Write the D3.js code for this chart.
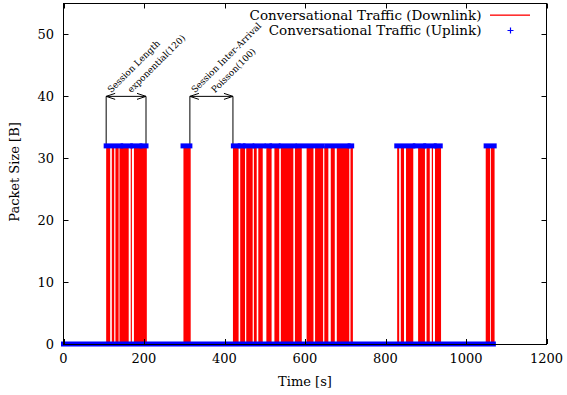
<!DOCTYPE html>
<html><head><meta charset="utf-8">
<script src="https://cdn.jsdelivr.net/npm/d3@7"></script>
<style>
html,body{margin:0;padding:0;background:#fff;}
svg{display:block;font-family:"DejaVu Serif",serif;}
</style></head>
<body><svg id="chart" width="567" height="395"></svg>
<script>
// ---- data (seconds) ----
const xTicks = [0, 200, 400, 600, 800, 1000, 1200];
const yTicks = [0, 10, 20, 30, 40, 50];
const downlinkSize = 32;
const uplinkSize = 32;
// downlink talk bursts [start, end]
const downlinkBursts = [
  [106,116],[120,126],[129,137],[139,162],[167,170],[175,207],
  [298,316],
  [421,435],[439,451],[454,470],[473,480],[484,495],[504,517],[524,536],
  [540,571],[575,592],[604,621],[625,645],[648,658],[664,674],[679,710],[713,719],
  [829,834],[838,846],[851,869],[881,898],[902,910],[915,918],[923,938],
  [1049,1060],[1062,1071]
];
// uplink packets at 32 B [start, end]
const uplinkBursts = [
  [106,142],[148,166],[172,190],[195,205],
  [297,314],
  [422,434],[439,446],[452,468],[476,496],[506,512],[518,533],[541,573],
  [583,643],[655,707],[712,716],
  [828,868],[874,895],[900,921],[926,936],
  [1050,1070]
];
// uplink packets at 0 B
const uplinkIdle = [[0,1068]];
const sessionLength = [106, 205];
const sessionInterArrival = [314, 421];
const annotY = 40;
const legendLabels = ["Conversational Traffic (Downlink)", "Conversational Traffic (Uplink)"];

// ---- layout ----
const L = 63.5, R = 546.5, T = 3.5, B = 344;
const svg = d3.select("#chart");
const x = d3.scaleLinear().domain([0, 1200]).range([L, R]);
const y = d3.scaleLinear().domain([0, 55]).range([B, T]);

// downlink bursts (impulse area)
svg.append("g").selectAll("rect").data(downlinkBursts).join("rect")
  .attr("x", d => x(d[0])).attr("width", d => x(d[1]) - x(d[0]))
  .attr("y", y(downlinkSize)).attr("height", y(0) - y(downlinkSize))
  .attr("fill", "#ff0000");

// annotation brackets
function bracket(iv, label1, label2) {
  const g = svg.append("g").attr("stroke", "#000").attr("fill", "none").attr("stroke-width", 1);
  iv.forEach(t => g.append("line").attr("x1", x(t)).attr("x2", x(t)).attr("y1", y(32)).attr("y2", y(annotY)));
  const x0 = x(iv[0]), x1 = x(iv[1]), yy = y(annotY);
  g.append("line").attr("x1", x0).attr("x2", x1).attr("y1", yy).attr("y2", yy);
  g.append("path").attr("d", `M${x0+9},${yy-3}L${x0},${yy}L${x0+9},${yy+3}`);
  g.append("path").attr("d", `M${x1-9},${yy-3}L${x1},${yy}L${x1-9},${yy+3}`);
  const t = svg.append("g").attr("font-size", 9).attr("fill", "#000");
  t.append("text").attr("transform", `translate(${x0+5},${yy-3}) rotate(-45)`).text(label1);
  t.append("text").attr("transform", `translate(${x0+25},${yy-3}) rotate(-45)`).text(label2);
}
bracket(sessionLength, "Session Length", "exponential(120)");
bracket(sessionInterArrival, "Session Inter-Arrival", "Poisson(100)");

// uplink points (dense '+' markers drawn as bands)
const up = svg.append("g").attr("stroke", "#0000ff").attr("stroke-width", 5).attr("stroke-linecap", "square");
up.selectAll("line.b").data(uplinkBursts).join("line").attr("class", "b")
  .attr("x1", d => x(d[0])).attr("x2", d => x(d[1])).attr("y1", y(uplinkSize)).attr("y2", y(uplinkSize));
up.selectAll("line.i").data(uplinkIdle).join("line").attr("class", "i")
  .attr("x1", d => x(d[0])).attr("x2", d => x(d[1])).attr("y1", y(0)).attr("y2", y(0));

// border
svg.append("rect").attr("x", L).attr("y", T).attr("width", R - L).attr("height", B - T + 0.5)
  .attr("fill", "none").attr("stroke", "#000").attr("stroke-width", 1);

// ticks (inward on all sides)
const tk = 5;
const tg = svg.append("g").attr("stroke", "#000").attr("stroke-width", 1);
xTicks.forEach(v => {
  const px = Math.round(x(v)) + 0.5;
  tg.append("line").attr("x1", px).attr("x2", px).attr("y1", B).attr("y2", B - tk);
  tg.append("line").attr("x1", px).attr("x2", px).attr("y1", T).attr("y2", T + tk);
});
yTicks.forEach(v => {
  const py = Math.round(y(v)) + 0.5;
  tg.append("line").attr("x1", L).attr("x2", L + tk).attr("y1", py).attr("y2", py);
  tg.append("line").attr("x1", R).attr("x2", R - tk).attr("y1", py).attr("y2", py);
});
const lab = svg.append("g").attr("font-size", 13).attr("fill", "#000");
xTicks.forEach(v => lab.append("text").attr("x", x(v)).attr("y", 358).attr("dy", "0.35em")
  .attr("text-anchor", "middle").text(v));
yTicks.forEach(v => lab.append("text").attr("x", 54).attr("y", y(v)).attr("dy", "0.35em")
  .attr("text-anchor", "end").text(v));
lab.append("text").attr("x", 305).attr("y", 381).attr("dy", "0.35em").attr("text-anchor", "middle").text("Time [s]");
lab.append("text").attr("transform", "translate(14,172) rotate(-90)").attr("dy", "0.35em")
  .attr("text-anchor", "middle").text("Packet Size [B]");

// legend
const lg = svg.append("g").attr("font-size", 13.5);
lg.append("text").attr("x", 481.5).attr("y", 15).attr("dy", "0.35em").attr("text-anchor", "end").text(legendLabels[0]);
lg.append("text").attr("x", 481.5).attr("y", 30).attr("dy", "0.35em").attr("text-anchor", "end").text(legendLabels[1]);
lg.append("rect").attr("x", 490).attr("y", 14.5).attr("width", 40).attr("height", 1.3).attr("fill", "#ff0000");
lg.append("path").attr("d", "M507.5,30.5h6M510.5,27.5v6").attr("stroke", "#0000ff").attr("stroke-width", 1.2).attr("fill", "none");
</script></body></html>
